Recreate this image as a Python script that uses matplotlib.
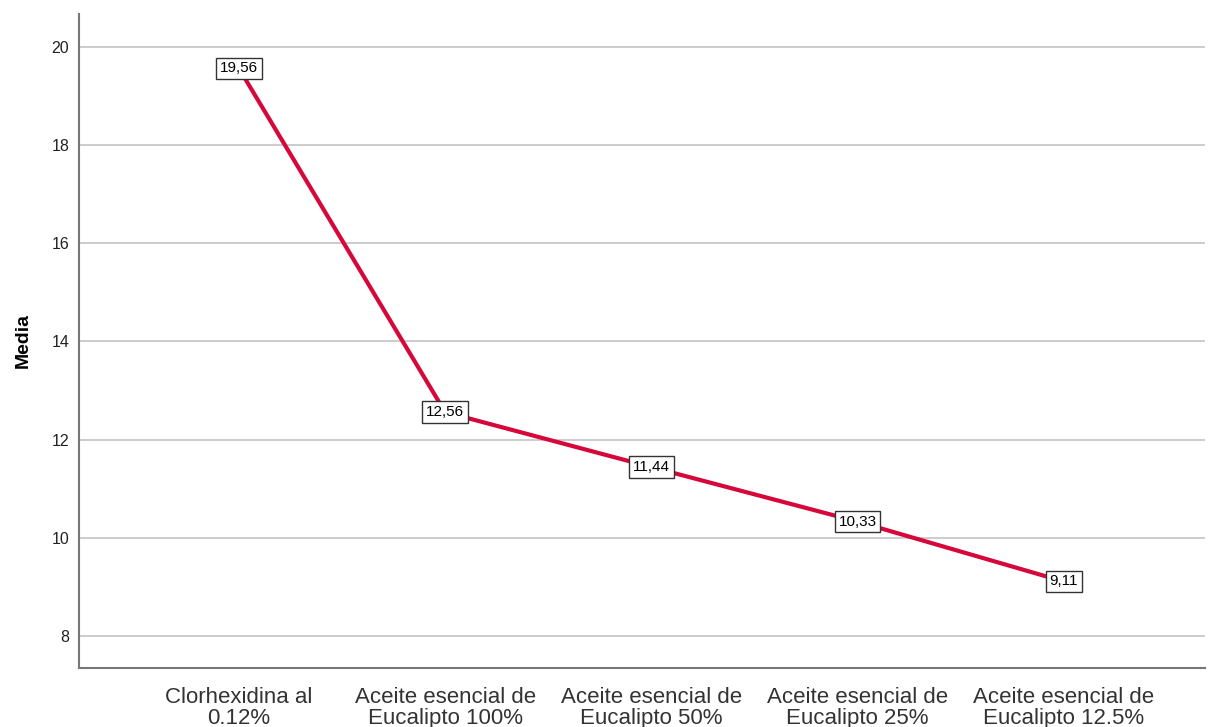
import matplotlib
matplotlib.use("Agg")
import matplotlib.pyplot as plt

categories = [
    "Clorhexidina al\n0.12%",
    "Aceite esencial de\nEucalipto 100%",
    "Aceite esencial de\nEucalipto 50%",
    "Aceite esencial de\nEucalipto 25%",
    "Aceite esencial de\nEucalipto 12.5%",
]
means = [19.56, 12.56, 11.44, 10.33, 9.11]
value_labels = ["19,56", "12,56", "11,44", "10,33", "9,11"]
y_ticks = [8, 10, 12, 14, 16, 18, 20]

plt.rcParams["font.family"] = ["Liberation Sans", "DejaVu Sans"]

fig = plt.figure(figsize=(12.13, 7.27), dpi=100)
ax = fig.add_axes([0.0651, 0.0812, 0.928, 0.8998])

x = list(range(len(categories)))
ax.plot(x, means, color="#D6083B", linewidth=3.0, solid_capstyle="butt", zorder=3)

for xi, yi, lab in zip(x, means, value_labels):
    ax.text(xi, yi, lab, ha="center", va="center", fontsize=11, color="black",
            zorder=4,
            bbox=dict(boxstyle="square,pad=0.25", facecolor="white",
                      edgecolor="#333333", linewidth=1.0))

ax.set_xlim(-0.776, 4.684)
ax.set_ylim(7.348, 20.672)
ax.set_yticks(y_ticks)
ax.set_yticklabels([str(t) for t in y_ticks], fontsize=11.5, color="#222222")
ax.set_xticks(x)
ax.set_xticklabels(categories, fontsize=16, color="#333333", linespacing=0.95)
ax.tick_params(axis="both", length=0)
ax.tick_params(axis="y", pad=7)
ax.tick_params(axis="x", pad=14)

ax.yaxis.grid(True, color="#C4C4C4", linewidth=1.2)
ax.set_axisbelow(True)

for side in ("top", "right"):
    ax.spines[side].set_visible(False)
for side in ("left", "bottom"):
    ax.spines[side].set_color("#777777")
    ax.spines[side].set_linewidth(1.5)

ax.set_ylabel("Media", fontsize=14, fontweight="bold", labelpad=14)

fig.savefig("out.png", dpi=100)
